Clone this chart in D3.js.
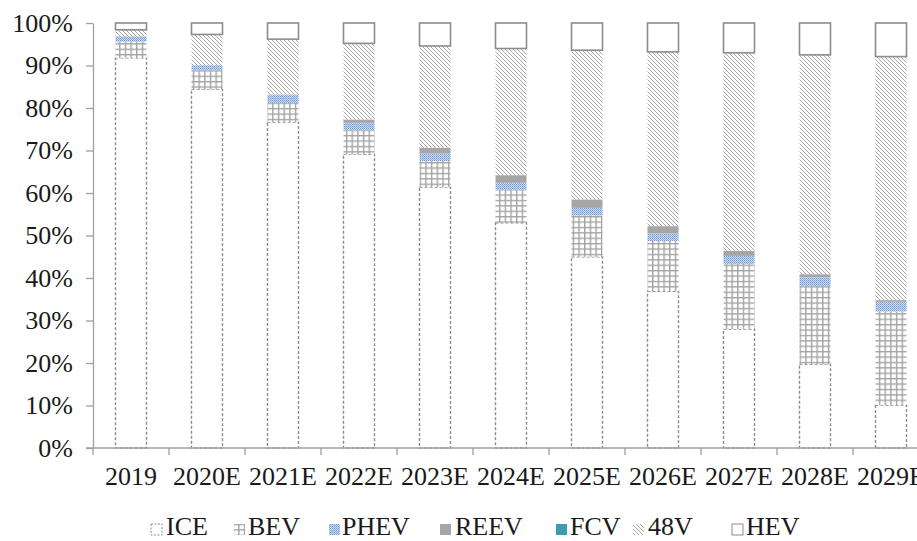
<!DOCTYPE html>
<html>
<head>
<meta charset="utf-8">
<script src="https://cdn.jsdelivr.net/npm/d3@7"></script>
<style>
  body { margin: 0; background: #fff; }
  svg { display: block; font-family: "Liberation Serif", "Times New Roman", serif; }
</style>
</head>
<body>
<div id="chart"></div>
<script>
// categories and series shares (percent of each year)
const years = ['2019', '2020E', '2021E', '2022E', '2023E', '2024E', '2025E', '2026E', '2027E', '2028E', '2029E'];
const ice  = [91.8, 84.4, 76.7, 69.1, 61.4, 53.0, 45.0, 36.9, 28.0, 19.7, 10.1];
const bev  = [3.8, 4.5, 4.5, 5.7, 6.1, 7.7, 9.7, 11.8, 15.3, 18.4, 22.0];
const phev = [1.2, 1.2, 1.9, 1.7, 1.8, 1.7, 1.8, 1.8, 1.9, 2.1, 2.3];
const reev = [0.1, 0.0, 0.1, 0.8, 1.4, 1.8, 2.0, 1.7, 1.2, 0.7, 0.4];
const fcv  = [0, 0, 0, 0, 0, 0, 0, 0, 0, 0, 0];
const v48  = [1.5, 7.2, 13.0, 17.9, 23.9, 29.8, 35.1, 41.0, 46.6, 51.6, 57.3];
const hev  = [1.6, 2.7, 3.8, 4.8, 5.4, 6.0, 6.4, 6.8, 7.0, 7.5, 7.9];
const series_names = ['ICE', 'BEV', 'PHEV', 'REEV', 'FCV', '48V', 'HEV'];
const y_ticks = [0, 0.1, 0.2, 0.3, 0.4, 0.5, 0.6, 0.7, 0.8, 0.9, 1.0];

const svg_width = 917, svg_height = 541;
const margin = { top: 23, left: 93 };
const step = 76;

const table = years.map(function (y, i) {
  return { year: y, ICE: ice[i], BEV: bev[i], PHEV: phev[i], REEV: reev[i], FCV: fcv[i], '48V': v48[i], HEV: hev[i] };
});

const svg = d3.select('#chart').append('svg')
  .attr('width', svg_width)
  .attr('height', svg_height);

// patterns
const defs = svg.append('defs');
const grid = defs.append('pattern').attr('id', 'p-bev')
  .attr('patternUnits', 'userSpaceOnUse').attr('width', 5.67).attr('height', 5.4);
grid.append('rect').attr('width', 5.67).attr('height', 5.4).attr('fill', '#fff');
grid.append('path').attr('d', 'M0.7,0 V5.4 M0,0.7 H5.67')
  .attr('stroke', '#a3a3a3').attr('stroke-width', 1.4);

const dots = defs.append('pattern').attr('id', 'p-phev')
  .attr('patternUnits', 'userSpaceOnUse').attr('width', 2).attr('height', 2);
dots.append('rect').attr('width', 2).attr('height', 2).attr('fill', '#c9daf2');
dots.append('rect').attr('width', 1).attr('height', 1).attr('fill', '#6f99d8');
dots.append('rect').attr('x', 1).attr('y', 1).attr('width', 1).attr('height', 1).attr('fill', '#8fb0e4');

const diag = defs.append('pattern').attr('id', 'p-48v')
  .attr('patternUnits', 'userSpaceOnUse').attr('width', 4).attr('height', 4);
diag.append('rect').attr('width', 4).attr('height', 4).attr('fill', '#fff');
diag.append('path').attr('d', 'M-1,-1 L5,5 M-1,3 L1,5 M3,-1 L5,1')
  .attr('stroke', '#a8a8a8').attr('stroke-width', 1);

const styles = {
  ICE:  { fill: '#fff', stroke: '#8c8c8c', dash: '3,2', sw: 1.4 },
  BEV:  { fill: 'url(#p-bev)', stroke: 'none' },
  PHEV: { fill: 'url(#p-phev)', stroke: 'none' },
  REEV: { fill: '#a6a6a6', stroke: 'none' },
  FCV:  { fill: '#3f9ab2', stroke: 'none' },
  '48V': { fill: 'url(#p-48v)', stroke: 'none' },
  HEV:  { fill: '#fff', stroke: '#8c8c8c', sw: 1.6 }
};

const x = d3.scaleBand()
  .domain(years)
  .range([margin.left, margin.left + step * years.length])
  .padding(0);
const bar_w = 31;

const y = d3.scaleLinear()
  .domain([0, 100])
  .range([448, margin.top]);
const y_axis_scale = d3.scaleLinear().domain([0, 1]).range([448, margin.top]);

const stack = d3.stack().keys(series_names)(table);

// bars
const layers = svg.append('g').selectAll('g')
  .data(stack)
  .enter().append('g')
  .attr('fill', d => styles[d.key].fill);

layers.selectAll('rect')
  .data(d => d.map(v => ({ key: d.key, v: v })))
  .enter().append('rect')
  .filter(d => d.v[1] - d.v[0] > 0)
  .attr('x', d => x(d.v.data.year) + (step - bar_w) / 2)
  .attr('y', d => y(d.v[1]))
  .attr('width', bar_w)
  .attr('height', d => y(d.v[0]) - y(d.v[1]))
  .attr('stroke', d => styles[d.key].stroke)
  .attr('stroke-width', d => styles[d.key].sw || 0)
  .attr('stroke-dasharray', d => styles[d.key].dash || null);

// y axis
const yAxis = svg.append('g')
  .attr('transform', 'translate(' + margin.left + ',0)')
  .call(d3.axisLeft(y_axis_scale).tickValues(y_ticks).tickFormat(d3.format('.0%'))
    .tickSize(7).tickSizeOuter(0).tickPadding(13));
yAxis.select('.domain').attr('stroke', '#a0a0a0').attr('stroke-width', 1.3);
yAxis.selectAll('.tick line').attr('stroke', '#a0a0a0').attr('stroke-width', 1.3);
yAxis.selectAll('.tick text').attr('font-size', 26).attr('fill', '#1a1a1a')
  .attr('font-family', '"Liberation Serif", serif');

// x axis: labels centred, ticks at category boundaries
const xAxis = svg.append('g')
  .attr('transform', 'translate(0,448)')
  .call(d3.axisBottom(x).tickSize(0).tickSizeOuter(0).tickPadding(19));
xAxis.select('.domain').remove();
xAxis.append('line')
  .attr('x1', margin.left - 7).attr('x2', svg_width)
  .attr('stroke', '#a0a0a0').attr('stroke-width', 1.3);
xAxis.selectAll('.bound')
  .data(years)
  .enter().append('line')
  .attr('x1', d => x(d)).attr('x2', d => x(d))
  .attr('y1', 0).attr('y2', 7)
  .attr('stroke', '#a0a0a0').attr('stroke-width', 1.3);
xAxis.selectAll('.tick text').attr('font-size', 26).attr('fill', '#1a1a1a')
  .attr('font-family', '"Liberation Serif", serif');

// legend
const legend_sym_x = [151, 234, 329, 440, 556, 633, 732];
const legend_txt_x = [166, 248, 342, 455, 570, 648, 746];
const legend = svg.append('g');
series_names.forEach(function (name, i) {
  const s = styles[name];
  legend.append('rect')
    .attr('x', legend_sym_x[i]).attr('y', 524)
    .attr('width', 11).attr('height', 11)
    .attr('fill', s.fill)
    .attr('stroke', s.stroke === 'none' ? null : s.stroke)
    .attr('stroke-width', s.sw ? 1 : 0)
    .attr('stroke-dasharray', s.dash ? '2,1.5' : null);
  legend.append('text')
    .attr('x', legend_txt_x[i]).attr('y', 535)
    .attr('font-size', 26).attr('fill', '#1a1a1a')
    .text(name);
});
</script>
</body>
</html>
